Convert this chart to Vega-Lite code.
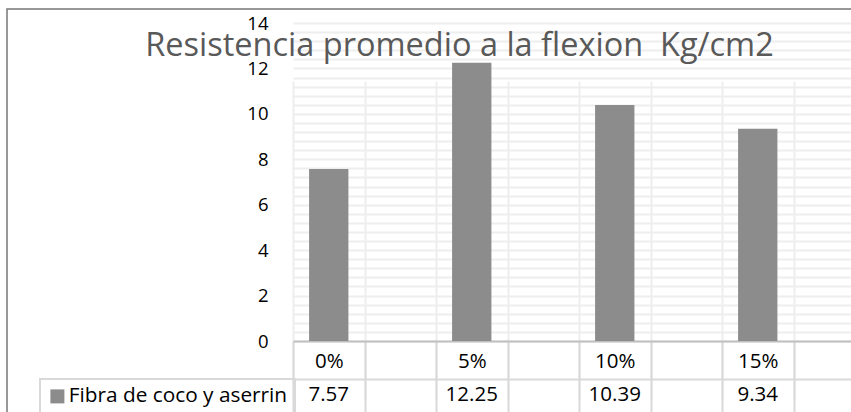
{
  "$schema": "https://vega.github.io/schema/vega-lite/v6.json",
  "autosize": {"type": "none"},
  "width": 845,
  "height": 404,
  "padding": {"left": 7, "top": 9, "right": -1, "bottom": -1},
  "background": "white",
  "config": {
    "view": {"stroke": "#777777", "strokeWidth": 1.5},
    "legend": {"strokeWidth": 2}
  },
  "title": {
    "text": "Resistencia promedio a la flexion\u00a0 Kg/cm2",
    "font": "Open Sans",
    "fontSize": 32.5,
    "fontWeight": "normal",
    "color": "#595959",
    "anchor": "middle",
    "frame": "group",
    "baseline": "alphabetic",
    "offset": -79,
    "dx": 30
  },
  "data": {
    "values": [
      {"cat": "0%", "value": 7.57, "series": "Fibra de coco y aserrin"},
      {"cat": "5%", "value": 12.25, "series": "Fibra de coco y aserrin"},
      {"cat": "10%", "value": 10.39, "series": "Fibra de coco y aserrin"},
      {"cat": "15%", "value": 9.34, "series": "Fibra de coco y aserrin"}
    ]
  },
  "resolve": {"axis": {"x": "independent", "y": "independent"}},
  "layer": [
    {
      "mark": {"type": "bar", "width": {"band": 0.55}},
      "encoding": {
        "x": {
          "field": "cat",
          "type": "nominal",
          "sort": null,
          "scale": {
            "domain": ["0%", " ", "5%", "  ", "10%", "   ", "15%", "    "],
            "range": [286, 858],
            "paddingInner": 0,
            "paddingOuter": 0
          },
          "axis": {
            "orient": "bottom",
            "offset": -72,
            "title": null,
            "tickBand": "extent",
            "ticks": true,
            "tickSize": 73,
            "tickColor": "#d9d9d9",
            "tickWidth": 2,
            "domain": true,
            "domainColor": "#bfbfbf",
            "domainWidth": 2,
            "grid": true,
            "gridColor": "#eeeeee",
            "gridWidth": 2,
            "labelAngle": 0,
            "labelFont": "Open Sans",
            "labelFontSize": 20.5,
            "labelColor": "#000000",
            "labelBaseline": "top",
            "labelPadding": -63
          }
        },
        "y": {
          "field": "value",
          "type": "quantitative",
          "scale": {"domain": [0, 14], "range": [332, 14], "nice": false},
          "axis": {
            "orient": "left",
            "offset": -286,
            "title": null,
            "values": [0, 2, 4, 6, 8, 10, 12, 14],
            "format": "d",
            "labelOverlap": false,
            "labelFlush": false,
            "ticks": false,
            "domain": false,
            "grid": false,
            "labelFont": "Open Sans",
            "labelFontSize": 18.5,
            "labelColor": "#000000",
            "labelPadding": 25
          }
        },
        "color": {
          "field": "series",
          "type": "nominal",
          "scale": {"range": ["#8c8c8c"]},
          "legend": {
            "orient": "none",
            "legendX": 33,
            "legendY": 370,
            "title": null,
            "strokeColor": "#d9d9d9",
            "padding": 7,
            "symbolType": "square",
            "symbolSize": 196,
            "symbolStrokeWidth": 0,
            "symbolOpacity": 1,
            "labelFont": "Open Sans",
            "labelFontSize": 20.8,
            "labelColor": "#000000",
            "labelOffset": 1,
            "labelLimit": 400
          }
        }
      }
    },
    {
      "mark": {"type": "text", "dy": 54, "baseline": "middle", "align": "center", "font": "Open Sans", "fontSize": 20.5, "color": "#000000"},
      "encoding": {
        "x": {
          "field": "cat",
          "type": "nominal",
          "sort": null,
          "axis": {
            "orient": "bottom",
            "offset": -34,
            "title": null,
            "labels": false,
            "ticks": false,
            "grid": false,
            "domain": true,
            "domainColor": "#d9d9d9",
            "domainWidth": 2
          }
        },
        "y": {
          "datum": 0,
          "type": "quantitative",
          "axis": {
            "orient": "left",
            "title": null,
            "values": [0, 0.4, 0.8, 1.2, 1.6, 2, 2.4, 2.8, 3.2, 3.6, 4, 4.4, 4.8, 5.2, 5.6, 6, 6.4, 6.8, 7.2, 7.6, 8, 8.4, 8.8, 9.2, 9.6, 10, 10.4, 10.8, 11.2, 11.6, 12, 12.4, 12.8, 13.2, 13.6, 14],
            "labels": false,
            "ticks": false,
            "domain": false,
            "grid": true,
            "gridColor": "#eeeeee",
            "gridWidth": 2
          }
        },
        "text": {"field": "value", "type": "quantitative", "format": ".2f"}
      }
    }
  ]
}
